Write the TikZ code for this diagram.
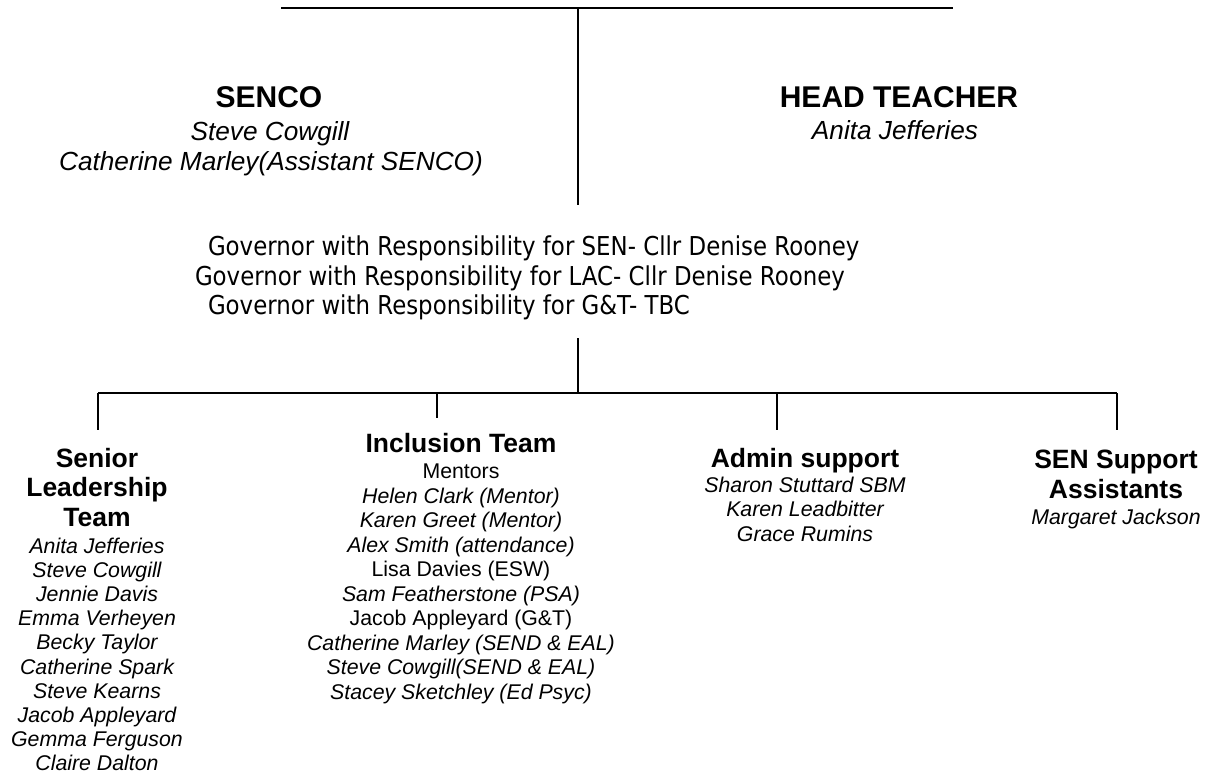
\documentclass[tikz,border=0pt]{standalone}
\usepackage{fontspec}
\setmainfont{Liberation Sans}
\newfontfamily\govfont[FakeStretch=0.88]{DejaVu Sans}
\begin{document}
\begin{tikzpicture}[x=1bp,y=-1bp,
  every node/.style={inner sep=0pt, outer sep=0pt, anchor=base},
  conn/.style={line width=1.6bp, black},
  bighead/.style={font=\fontsize{30bp}{36bp}\selectfont\bfseries},
  topname/.style={font=\fontsize{26.2bp}{30bp}\selectfont\itshape},
  gov/.style={font=\govfont\fontsize{26bp}{30bp}\selectfont, anchor=base west},
  bhead/.style={font=\fontsize{26.5bp}{30bp}\selectfont\bfseries},
  bname/.style={font=\fontsize{21.3bp}{25bp}\selectfont\itshape},
  bplain/.style={font=\fontsize{21.3bp}{25bp}\selectfont}]
\useasboundingbox (0,0) rectangle (1205,776);

% connector points
\coordinate (tL) at (281,8);
\coordinate (tR) at (953,8);
\coordinate (tM) at (578,8);
\coordinate (tB) at (578,205);
\coordinate (mT) at (578,338);
\coordinate (mB) at (578,393);
\coordinate (bus1) at (98,393);
\coordinate (bus2) at (437,393);
\coordinate (bus3) at (777,393);
\coordinate (bus4) at (1117,393);
\coordinate (d1) at (98,430);
\coordinate (d2) at (437,418);
\coordinate (d3) at (777,430);
\coordinate (d4) at (1117,430);

\draw[conn] (tL) -- (tR);
\draw[conn] (tM) -- (tB);
\draw[conn] (mT) -- (mB);
\draw[conn] (bus1) -- (bus4);
\draw[conn] (bus1) -- (d1);
\draw[conn] (bus2) -- (d2);
\draw[conn] (bus3) -- (d3);
\draw[conn] (bus4) -- (d4);

% top
\node[bighead] (senco) at (269,108) {SENCO};
\node[topname] (senco1) at (270,140) {Steve Cowgill};
\node[topname] (senco2) at (271,170) {Catherine Marley(Assistant SENCO)};
\node[bighead] (head) at (899,108) {HEAD TEACHER};
\node[topname] (head1) at (895,139) {Anita Jefferies};

% governors
\node[gov] (gov1) at (208,255) {Governor with Responsibility for SEN- Cllr Denise Rooney};
\node[gov] (gov2) at (195,285) {Governor with Responsibility for LAC- Cllr Denise Rooney};
\node[gov] (gov3) at (208,314) {Governor with Responsibility for G\&T- TBC};

% senior leadership team
\node[bhead] (slt1) at (97,467) {Senior};
\node[bhead] (slt2) at (97,496.5) {Leadership};
\node[bhead] (slt3) at (97,526) {Team};
\foreach \t [count=\i from 0] in {Anita Jefferies,Steve Cowgill,Jennie Davis,Emma Verheyen,Becky Taylor,Catherine Spark,Steve Kearns,Jacob Appleyard,Gemma Ferguson,Claire Dalton}
  \node[bname] (sltn\i) at (97,{553.5+24.1*\i}) {\t};

% inclusion team
\node[bhead] (inc) at (461,452) {Inclusion Team};
\node[bplain] (inc0) at (461,478) {Mentors};
\node[bname] (inc1) at (461,503) {Helen Clark (Mentor)};
\node[bname] (inc2) at (461,527.5) {Karen Greet (Mentor)};
\node[bname] (inc3) at (461,552) {Alex Smith (attendance)};
\node[bplain] (inc4) at (461,576.5) {Lisa Davies (ESW)};
\node[bname] (inc5) at (461,601) {Sam Featherstone (PSA)};
\node[bplain] (inc6) at (461,625.5) {Jacob Appleyard (G\&T)};
\node[bname] (inc7) at (461,650) {Catherine Marley (SEND \& EAL)};
\node[bname] (inc8) at (461,674.5) {Steve Cowgill(SEND \& EAL)};
\node[bname] (inc9) at (461,699) {Stacey Sketchley (Ed Psyc)};

% admin support
\node[bhead] (adm) at (805,467) {Admin support};
\node[bname] (adm1) at (805,492) {Sharon Stuttard SBM};
\node[bname] (adm2) at (805,516.5) {Karen Leadbitter};
\node[bname] (adm3) at (805,541) {Grace Rumins};

% SEN support assistants
\node[bhead] (sen1) at (1116,468) {SEN Support};
\node[bhead] (sen2) at (1116,498) {Assistants};
\node[bname] (sen3) at (1116,524) {Margaret Jackson};
\end{tikzpicture}
\end{document}
